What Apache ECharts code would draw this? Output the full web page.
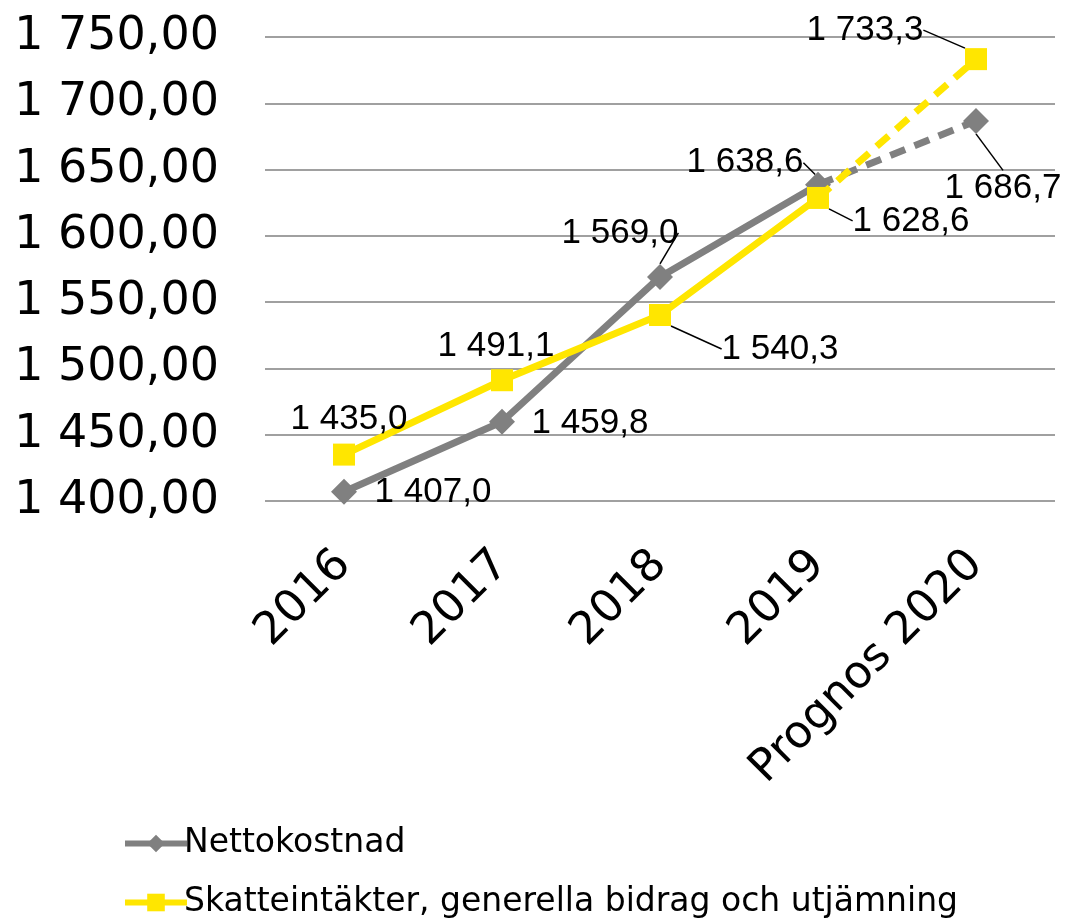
<!DOCTYPE html>
<html>
<head>
<meta charset="utf-8">
<script src="https://cdn.jsdelivr.net/npm/echarts@6/dist/echarts.min.js"></script>
<style>html,body{margin:0;padding:0;background:#fff}#c{width:1065px;height:920px}</style>
</head>
<body>
<div id="c"></div>
<script>
var categories = ['2016', '2017', '2018', '2019', 'Prognos 2020'];
var nettoName = 'Nettokostnad';
var skattName = 'Skatteintäkter, generella bidrag och utjämning';
var nettokostnad = [1407.0, 1459.8, 1569.0, 1638.6, 1686.7];
var skatteintakter = [1435.0, 1491.1, 1540.3, 1628.6, 1733.3];
var forecastStart = 3; // index from which line is dashed

// label offsets (label centre relative to point), and whether a leader line is drawn
var nettoLabelOffset = [[89, 1], [88, 2], [-40, -44], [-73, -22], [27, 67]];
var nettoLeader = [false, false, true, true, true];
var skattLabelOffset = [[5, -35], [-6, -34], [120, 34], [93, 23], [-111, -29]];
var skattLeader = [false, false, true, true, true];

function fmt(v) {
  var s = v.toFixed(1).replace('.', ',');
  var parts = s.split(',');
  var i = parts[0].replace(/\B(?=(\d{3})+(?!\d))/g, ' ');
  return i + ',' + parts[1];
}
function fmtAxis(v) {
  var s = v.toFixed(2).replace('.', ',');
  var parts = s.split(',');
  var i = parts[0].replace(/\B(?=(\d{3})+(?!\d))/g, ' ');
  return i + ',' + parts[1];
}

var labelStyle = {
  show: true, position: 'inside', fontFamily: 'Liberation Sans', fontSize: 35, color: '#000',
  formatter: function (p) { return fmt(p.value); }
};
var lineLbl = { show: true, lineStyle: { color: '#000', width: 1.5 } };

function solidData(arr, leader) {
  return arr.map(function (v, i) {
    if (i > forecastStart) return null;
    return { value: v, labelLine: { show: leader[i] } };
  });
}
function dashData(arr, leader) {
  return arr.map(function (v, i) {
    if (i < forecastStart) return null;
    if (i === forecastStart) return { value: v, label: { show: false }, symbolSize: 0 };
    return { value: v, labelLine: { show: leader[i] } };
  });
}
function layoutFn(offsets) {
  return function (p) {
    var o = offsets[p.dataIndex];
    return { dx: o[0], dy: o[1] };
  };
}

var gray = '#808080', yellow = '#FFE600';

var legendBase = {
  orient: 'vertical', left: 117, itemWidth: 62, itemHeight: 22, itemGap: 0,
  textStyle: { fontFamily: 'DejaVu Sans', fontSize: 33, color: '#000', padding: [0, 0, 0, -8] },
  lineStyle: { width: 6 }
};

var option = {
  animation: false,
  backgroundColor: '#fff',
  grid: { left: 265, right: 10, top: 37, bottom: 419, containLabel: false },
  xAxis: {
    type: 'category', data: categories, boundaryGap: true,
    axisLine: { show: false }, axisTick: { show: false },
    axisLabel: { rotate: 45, fontFamily: 'DejaVu Sans', fontSize: 45, color: '#000', margin: 57, interval: 0 }
  },
  yAxis: {
    type: 'value', min: 1400, max: 1750, interval: 50,
    axisLine: { show: false }, axisTick: { show: false },
    splitLine: { lineStyle: { color: '#a0a0a0', width: 2 } },
    axisLabel: { fontFamily: 'DejaVu Sans', fontSize: 46, color: '#000', margin: 46, formatter: fmtAxis }
  },
  legend: [
    Object.assign({}, legendBase, { top: 822, data: [nettoName] }),
    Object.assign({}, legendBase, { top: 881, data: [skattName] })
  ],
  series: [
    {
      name: nettoName, type: 'line', data: solidData(nettokostnad, nettoLeader),
      color: gray, lineStyle: { width: 7, color: gray }, symbol: 'diamond', symbolSize: 26,
      itemStyle: { color: gray }, label: labelStyle, labelLine: lineLbl,
      labelLayout: layoutFn(nettoLabelOffset), z: 2
    },
    {
      name: nettoName, type: 'line', data: dashData(nettokostnad, nettoLeader),
      color: gray, lineStyle: { width: 7, color: gray, type: [16, 10] }, symbol: 'diamond', symbolSize: 26,
      itemStyle: { color: gray }, label: labelStyle, labelLine: lineLbl,
      labelLayout: layoutFn(nettoLabelOffset), z: 2
    },
    {
      name: skattName, type: 'line', data: solidData(skatteintakter, skattLeader),
      color: yellow, lineStyle: { width: 7, color: yellow }, symbol: 'rect', symbolSize: 22,
      itemStyle: { color: yellow }, label: labelStyle, labelLine: lineLbl,
      labelLayout: layoutFn(skattLabelOffset), z: 3
    },
    {
      name: skattName, type: 'line', data: dashData(skatteintakter, skattLeader),
      color: yellow, lineStyle: { width: 7, color: yellow, type: [16, 10] }, symbol: 'rect', symbolSize: 22,
      itemStyle: { color: yellow }, label: labelStyle, labelLine: lineLbl,
      labelLayout: layoutFn(skattLabelOffset), z: 3
    }
  ]
};
var chart = echarts.init(document.getElementById('c'), null, { renderer: 'canvas' });
chart.setOption(option);
</script>
</body>
</html>
